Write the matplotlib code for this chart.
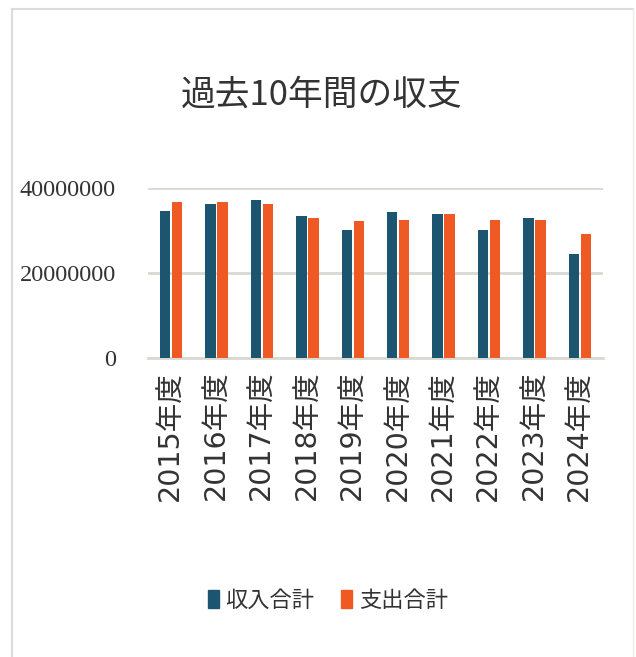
import matplotlib
matplotlib.use("Agg")
import matplotlib.pyplot as plt
import numpy as np
from matplotlib.patches import Rectangle
from matplotlib.lines import Line2D

years = ["2015年度", "2016年度", "2017年度", "2018年度", "2019年度",
         "2020年度", "2021年度", "2022年度", "2023年度", "2024年度"]
income = [34700000, 36200000, 37250000, 33400000, 30200000,
          34350000, 34000000, 30300000, 33000000, 24500000]
expense = [36700000, 36700000, 36200000, 33000000, 32200000,
           32600000, 34000000, 32600000, 32600000, 29300000]
series_names = ["収入合計", "支出合計"]
title = "過去10年間の収支"
yticks = [0, 20000000, 40000000]

blue = "#1c5570"
orange = "#ef5a24"
cjk = ["Noto Sans CJK JP", "DejaVu Sans"]

fig = plt.figure(figsize=(6.36, 6.57), dpi=100)
fig.patch.set_facecolor("white")

W, H = 636, 657
ax = fig.add_axes([148 / W, 1 - 358.3 / H, (603 - 148) / W, (358.3 - 188.3) / H])
x = np.arange(len(years))
bw = 0.227
off = 0.132
ax.bar(x - off, income, bw, color=blue, zorder=3, label=series_names[0])
ax.bar(x + off, expense, bw, color=orange, zorder=3, label=series_names[1])
ax.set_xlim(-0.51, len(years) - 0.49)
ax.set_ylim(0, 40000000)
ax.set_yticks(yticks)
ax.set_yticklabels([str(v) for v in yticks], family="Liberation Serif",
                   fontsize=17.5, color="#333333")
ax.tick_params(axis="y", length=0, pad=23)
ax.set_xticks(x)
ax.set_xticklabels(years, rotation=90, family=["DejaVu Sans", "Noto Sans CJK JP"],
                   fontsize=20.5, color="#333333", va="top")
ax.tick_params(axis="x", length=0, pad=9)
ax.yaxis.grid(True, color="#d9d9d3", linewidth=2, zorder=0)
ax.set_axisbelow(True)
for s in ax.spines.values():
    s.set_visible(False)
ax.axhline(0, color="#d9d9d3", linewidth=2, zorder=1, clip_on=False)
ax.set_facecolor("none")

fig.text(322 / W, 1 - 95 / H, title, ha="center", va="center",
         family=cjk, fontsize=25, color="#333333")

handles = [Rectangle((0, 0), 1, 1, color=blue), Rectangle((0, 0), 1, 1, color=orange)]
fig.legend(handles, series_names, loc="center", bbox_to_anchor=(328 / W, 1 - 600 / H),
           ncol=2, frameon=False, prop={"family": cjk, "size": 16},
           handlelength=0.5, handleheight=0.9, handletextpad=0.3, columnspacing=1.2,
           labelcolor="#333333")

# scanned page frame
frame_col = "#dcdcd8"
fig.add_artist(Line2D([12 / W, 12 / W], [0, 1 - 9 / H], color=frame_col, lw=1.5,
                      transform=fig.transFigure))
fig.add_artist(Line2D([12 / W, 633 / W], [1 - 9 / H, 1 - 9 / H], color=frame_col, lw=1.5,
                      transform=fig.transFigure))
fig.add_artist(Line2D([633 / W, 633 / W], [0, 1 - 9 / H], color="#ececea", lw=1.0,
                      transform=fig.transFigure))

fig.savefig("out.png", dpi=100, facecolor="white")
